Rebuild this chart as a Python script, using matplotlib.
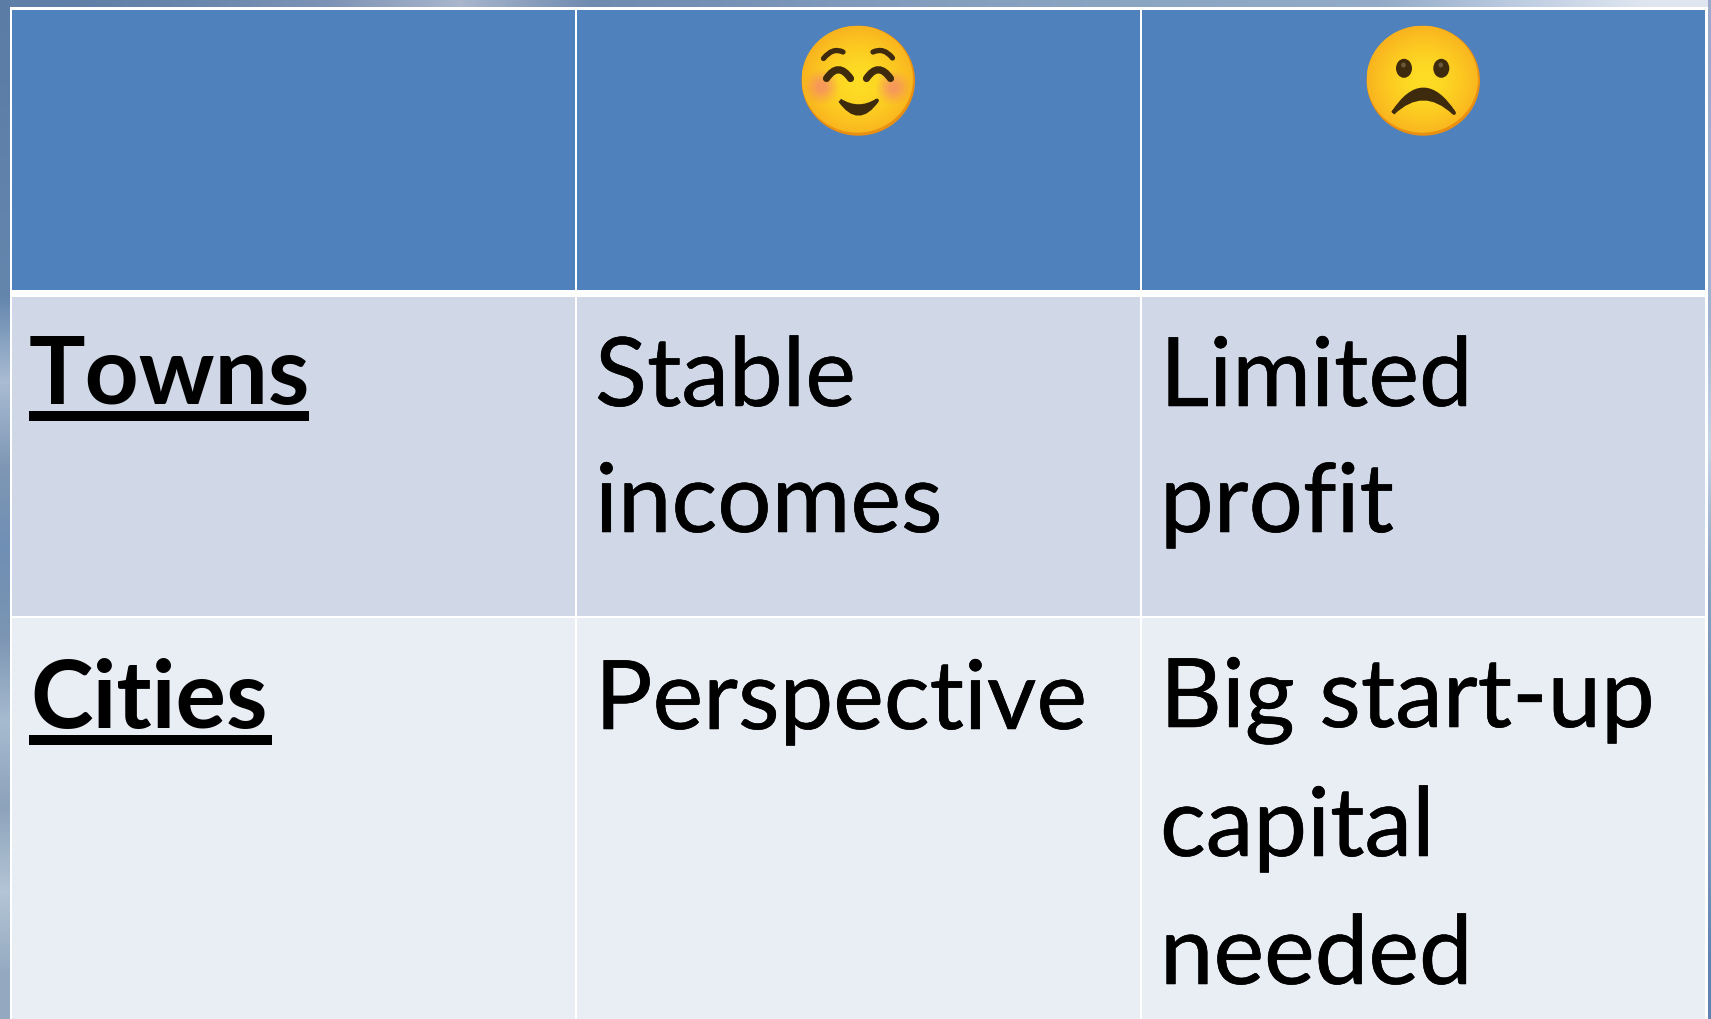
import numpy as np
import matplotlib
matplotlib.use('Agg')
import matplotlib.pyplot as plt
import matplotlib.colors as mcolors
import matplotlib.patches as mp
import matplotlib.patheffects as pe
from matplotlib.path import Path

W, H = 1711, 1019

# table content
row_names = ['Towns', 'Cities']
good_cells = [['Stable', 'incomes'], ['Perspective']]
bad_cells = [['Limited', 'profit'], ['Big start-up', 'capital', 'needed']]

# colours of the photo showing around the table
top_strip = ['#5f7fa8', '#6a87ad', '#7d93b5', '#a9b6cc', '#6f8bb0', '#7591b5', '#7f9abb',
             '#86a0bf', '#8aa5c2', '#8ea8c6', '#93abc8', '#bccbe0', '#dfe6f0']
left_strip = ['#5b7da6', '#5f80a8', '#6283ab', '#6486ad', '#a9bcd3', '#7f97b5', '#6f8fb4',
              '#7c95b3', '#a7bbd0', '#8da3bb', '#b3c5d6', '#94a9c0']
right_strip = ['#9aa9cc', '#a3b3d2', '#9fb2d0', '#c6d6ea', '#8da4c4', '#6f8fb8', '#7e9abf', '#5f84b4']

x_edges = [12, 575, 1140, 1705]
line_w = 2.5
y_header = (10, 290)
y_rows = [(297, 616), (618, 1019)]
header_color = '#4f81bd'
row_colors = ['#d0d8e8', '#e9edf4']

fig = plt.figure(figsize=(W/100, H/100), dpi=100)
ax = fig.add_axes([0, 0, 1, 1])
ax.axis('off')


def strip(colors, extent, vertical):
    rgb = np.array([mcolors.to_rgb(c) for c in colors])
    img = rgb[:, None, :] if vertical else rgb[None, :, :]
    ax.imshow(img, extent=extent, aspect='auto', interpolation='bilinear', zorder=0.7)


def curve(p0, ctrl, p1, lw, color='#3e2a0c', zorder=6):
    path = Path([p0, ctrl, p1], [Path.MOVETO, Path.CURVE3, Path.CURVE3])
    ax.add_patch(mp.PathPatch(path, fill=False, lw=lw, edgecolor=color,
                              capstyle='round', zorder=zorder))


def crescent(p0, outer, p1, inner, color='#3e2a0c'):
    path = Path([p0, outer, p1, inner, p0],
                [Path.MOVETO, Path.CURVE3, Path.CURVE3, Path.CURVE3, Path.CURVE3])
    ax.add_patch(mp.PathPatch(path, facecolor=color, edgecolor=color, lw=2.8,
                              joinstyle='round', zorder=6))


def face(cx, cy):
    rx, ry = 56.7, 55
    rim = mp.Ellipse((cx, cy), 2*rx, 2*ry, facecolor='#ea8f10', edgecolor='none', zorder=3)
    ax.add_patch(rim)
    clip = mp.Ellipse((cx-1, cy-1.5), 2*rx-2, 2*ry-3, transform=ax.transData)
    xx, yy = np.meshgrid(np.linspace(-1, 1, 150), np.linspace(-1, 1, 150))
    rr = np.sqrt(xx**2 + yy**2)
    cmap = mcolors.LinearSegmentedColormap.from_list(
        'emoji', ['#fede25', '#fdd723', '#fcc621', '#f8b11e'])
    im = ax.imshow(rr, cmap=cmap, vmin=0, vmax=1.05, aspect='auto', zorder=4,
                   extent=(cx-rx, cx+rx, cy+ry, cy-ry))
    im.set_clip_path(clip)


def blush(cx, cy):
    for r, a in [(17, 0.10), (14, 0.14), (11, 0.18), (8, 0.22), (5, 0.22)]:
        ax.add_patch(mp.Circle((cx, cy), r, facecolor='#f77f7f', edgecolor='none',
                               alpha=a, zorder=5))


ax.add_patch(mp.Rectangle((0, 0), W, H, facecolor='white', edgecolor='none', zorder=0.5))
strip(top_strip, (0, W, 7, 0), False)
strip(left_strip, (0, 9.5, H, 0), True)
strip(right_strip, (1708, W, H, 0), True)

for i in range(3):
    x0 = x_edges[i] + (line_w if i else 0)
    w = x_edges[i+1] - x0
    ax.add_patch(mp.Rectangle((x0, y_header[0]), w, y_header[1]-y_header[0],
                              facecolor=header_color, edgecolor='none', zorder=1))
    for (y0, y1), c in zip(y_rows, row_colors):
        ax.add_patch(mp.Rectangle((x0, y0), w, y1-y0, facecolor=c, edgecolor='none', zorder=1))

# smiling face
face(858.3, 80.7)
blush(821.7, 86.7)
blush(893.3, 87.3)
curve((823.5, 58.5), (832.5, 47), (843, 52), 3.8)
curve((873, 52), (884, 47), (892.5, 58), 3.8)
curve((826.5, 78.5), (838.3, 61), (850.5, 78.5), 5.2)
curve((866.5, 78.5), (878.3, 61), (890.5, 78.5), 5.2)
crescent((840, 100.5), (858.5, 127), (877, 100.5), (858.5, 112))

# sad face
face(1423.3, 80.7)
for ex in (1404, 1441.3):
    ax.add_patch(mp.Ellipse((ex, 68.3), 16, 19, facecolor='#3e2a0c', edgecolor='none', zorder=6))
    ax.add_patch(mp.Ellipse((ex-0.5, 65), 4.5, 5, facecolor='#6b5a3a', edgecolor='none', zorder=7))
crescent((1393, 113), (1423.3, 66), (1454, 113), (1423.3, 84))

# text
stroke = [pe.withStroke(linewidth=0.4, foreground='black')]
body = dict(fontsize=69, family='Lato', color='black', va='baseline', ha='left', zorder=8,
            path_effects=stroke)
head = dict(fontsize=68, family='Lato', weight='bold', color='black', va='baseline', ha='left', zorder=8)

for name, x, y, ux in zip(row_names, (29, 30), (404, 728), (309, 272)):
    ax.text(x, y, name, **head)
    ax.add_patch(mp.Rectangle((29, y+7), ux-29, 10, facecolor='black', edgecolor='none', zorder=8))

line_ys = [[406, 532], [729]]
for lines, ys in zip(good_cells, line_ys):
    for s, y in zip(lines, ys):
        ax.text(595, y, s, **body)
line_ys = [[406, 532], [727, 856, 984]]
for lines, ys in zip(bad_cells, line_ys):
    for s, y in zip(lines, ys):
        ax.text(1160, y, s, **body)

ax.set_xlim(0, W)
ax.set_ylim(H, 0)
fig.savefig('out.png', dpi=100)
